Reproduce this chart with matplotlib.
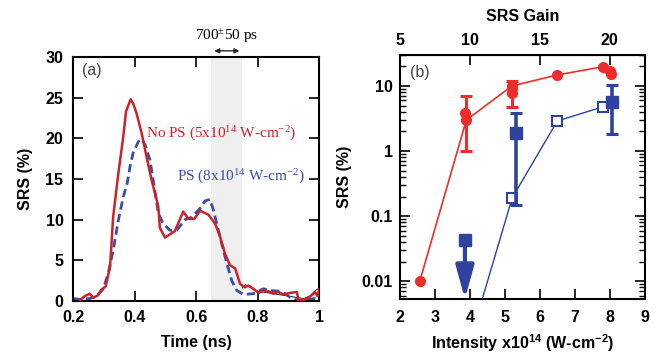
import matplotlib
matplotlib.use("Agg")
import matplotlib.pyplot as plt
from matplotlib.ticker import LogLocator, NullFormatter, FixedLocator

plt.rcParams['font.family'] = ['Liberation Sans', 'DejaVu Sans']
plt.rcParams['mathtext.default'] = 'regular'

# (a) time-resolved SRS
t_nops = [0.222, 0.238, 0.254, 0.265, 0.281, 0.292, 0.306, 0.32, 0.33, 0.347,
          0.363, 0.372, 0.387, 0.395, 0.406, 0.423, 0.439, 0.455, 0.477, 0.482,
          0.499, 0.531, 0.558, 0.575, 0.594, 0.613, 0.64, 0.662, 0.678, 0.694,
          0.71, 0.727, 0.743, 0.759, 0.77, 0.786, 0.803, 0.819, 0.835, 0.851,
          0.868, 0.884, 0.906, 0.928, 0.933, 0.955, 0.976, 0.987, 0.995, 1.0]
srs_nops = [0.1, 0.6, 0.9, 0.4, 0.7, 1.4, 1.8, 4.2, 10.3, 15.7,
            20.2, 23.3, 24.8, 24.3, 23.1, 20.6, 17.7, 14.9, 11.6, 9.0,
            7.8, 8.6, 11.0, 10.1, 10.1, 11.1, 10.6, 9.5, 7.9, 5.8,
            4.4, 4.0, 2.1, 1.7, 1.9, 1.5, 1.0, 1.3, 1.2, 0.9,
            1.1, 0.8, 1.0, 1.1, 0.1, 0.2, 0.7, 1.1, 0.6, 1.4]

t_ps = [0.2, 0.222, 0.254, 0.276, 0.298, 0.314, 0.33, 0.347, 0.363, 0.376,
        0.385, 0.395, 0.412, 0.423, 0.434, 0.45, 0.466, 0.477, 0.493, 0.515,
        0.537, 0.564, 0.586, 0.613, 0.629, 0.645, 0.656, 0.667, 0.683, 0.7,
        0.716, 0.732, 0.754, 0.786, 0.819, 0.84, 0.868, 0.889, 0.911, 0.933,
        0.96, 0.987, 1.0]
srs_ps = [0.3, 0.2, 0.3, 0.6, 1.5, 3.4, 6.2, 9.9, 12.8, 14.5,
          16.5, 18.2, 19.6, 19.9, 19.2, 17.3, 13.5, 10.8, 9.5, 8.7,
          8.7, 10.0, 10.3, 11.4, 12.3, 12.5, 11.2, 9.5, 7.1, 4.6,
          2.5, 1.3, 0.8, 0.9, 1.5, 1.3, 1.2, 0.9, 0.3, 0.1,
          0.2, 0.3, 0.1]

t_thin = [0.75, 0.76, 0.775, 0.79, 0.8, 0.95, 0.97, 0.985, 1.0]
srs_thin = [1.6, 2.0, 1.7, 1.4, 1.2, 0.3, 0.6, 1.2, 1.6]

window = (0.65, 0.75)

# (b) SRS vs intensity
i_nops = [2.57, 3.9, 5.2, 6.5, 7.8]
r_nops = [0.01, 3.0, 10.0, 14.8, 19.8]
i_nops_extra = [3.86, 5.21, 5.21, 8.0, 8.03]
r_nops_extra = [3.9, 9.2, 7.7, 17.0, 15.3]
i_nops_err = [3.9, 5.21]
r_nops_err = [3.0, 9.2]
lo_nops_err = [1.0, 4.8]
hi_nops_err = [7.0, 12.0]

i_ps_open = [4.0, 5.21, 6.5, 7.81]
r_ps_open = [0.0012, 0.19, 2.9, 4.8]

i_ps_fill = [5.33, 8.05]
r_ps_fill = [1.87, 5.7]
lo_ps_fill = [0.15, 1.8]
hi_ps_fill = [3.9, 10.4]

i_ps_limit = 3.86
r_ps_limit = 0.043

red_a = '#cc2229'
blue_a = '#3b4ea8'
red_b = '#ee2c2c'
blue_b = '#2f42a0'

fig = plt.figure(figsize=(6.62, 3.56), dpi=100)
ax1 = fig.add_axes([0.1105, 0.1545, 0.3715, 0.6855])
ax2 = fig.add_axes([0.604, 0.160, 0.370, 0.6855])

tick_kw = dict(direction='in', top=True, right=True, length=7, width=1.2,
               labelsize=11.5)

# ---- panel (a)
ax1.axvspan(window[0], window[1], color='#efefef', zorder=0, lw=0)
ax1.plot(t_ps, srs_ps, color=blue_a, lw=2.0, ls=(0, (3, 1.6)), zorder=2)
ax1.plot(t_nops, srs_nops, color=red_a, lw=1.8, zorder=3)
ax1.plot(t_thin, srs_thin, color='black', lw=0.6, zorder=1)
ax1.set_xlim(0.2, 1.0)
ax1.set_ylim(0, 30)
ax1.set_xticks([0.2, 0.4, 0.6, 0.8, 1.0])
ax1.set_xticklabels(['0.2', '0.4', '0.6', '0.8', '1'])
ax1.set_yticks([0, 5, 10, 15, 20, 25, 30])
ax1.tick_params(**tick_kw)
ax1.tick_params(axis='x', pad=6.5)
ax1.tick_params(axis='y', pad=7)
for lab in ax1.get_xticklabels() + ax1.get_yticklabels():
    lab.set_fontweight('bold')
ax1.set_xlabel('Time (ns)', fontsize=11.5, fontweight='bold', labelpad=7)
ax1.set_ylabel('SRS (%)', fontsize=11.5, fontweight='bold', labelpad=9)
for s in ax1.spines.values():
    s.set_linewidth(1.5)

ax1.text(0.23, 28.3, '(a)', fontsize=11.5, color='#444444', va='center')
ax1.text(0.437, 20.6, 'No PS (5x10$^{14}$ W-cm$^{-2}$)', color=red_a,
         family='Liberation Serif', fontsize=11, va='center')
ax1.text(0.537, 15.2, 'PS (8x10$^{14}$ W-cm$^{-2}$)', color=blue_a,
         family='Liberation Serif', fontsize=11, va='center')
ax1.annotate('', xy=(window[0], 30.75), xytext=(window[1], 30.75),
             arrowprops=dict(arrowstyle='<|-|>', color='#222222', lw=1.0,
                             mutation_scale=7), annotation_clip=False)
ax1.text(0.70, 31.5, '700$^{\\pm}$50 ps', ha='center', va='bottom',
         family='Liberation Serif', fontsize=11, clip_on=False)

# ---- panel (b)
ax2.set_yscale('log')
ax2.plot(i_nops, r_nops, color=red_b, lw=1.2, zorder=2)
ax2.plot(i_nops + i_nops_extra, r_nops + r_nops_extra, 'o', color=red_b,
         ms=7, zorder=3, ls='none')
ax2.errorbar(i_nops_err, r_nops_err,
             yerr=[[r - lo for r, lo in zip(r_nops_err, lo_nops_err)],
                   [hi - r for r, hi in zip(r_nops_err, hi_nops_err)]],
             fmt='none', ecolor=red_b, elinewidth=2.2, capsize=4, capthick=2.2,
             zorder=3)

ax2.plot(i_ps_open, r_ps_open, color=blue_b, lw=1.0, zorder=2)
ax2.plot(i_ps_open[1:], r_ps_open[1:], 's', mfc='white', mec=blue_b, mew=1.5,
         ms=6.5, ls='none', zorder=3)
ax2.errorbar(i_ps_fill, r_ps_fill,
             yerr=[[r - lo for r, lo in zip(r_ps_fill, lo_ps_fill)],
                   [hi - r for r, hi in zip(r_ps_fill, hi_ps_fill)]],
             fmt='s', color=blue_b, ms=8.5, elinewidth=2.6, capsize=4,
             capthick=2.2, zorder=4)
ax2.plot([i_ps_limit], [r_ps_limit], 's', color=blue_b, ms=8.5, zorder=4)
ax2.annotate('', xy=(i_ps_limit, 0.0053), xytext=(i_ps_limit, r_ps_limit),
             arrowprops=dict(arrowstyle='-|>,head_width=0.55,head_length=2.0',
                             color=blue_b, lw=3, shrinkA=0, shrinkB=0),
             zorder=4)

ax2.set_xlim(2, 9)
ax2.set_ylim(0.0053, 30)
ax2.set_xticks(range(2, 10))
ax2.yaxis.set_major_locator(FixedLocator([0.01, 0.1, 1, 10]))
ax2.set_yticklabels(['0.01', '0.1', '1', '10'])
ax2.yaxis.set_minor_locator(LogLocator(base=10, subs=range(2, 10), numticks=20))
ax2.yaxis.set_minor_formatter(NullFormatter())
ax2.tick_params(**tick_kw)
ax2.tick_params(which='minor', direction='in', right=True, length=4, width=1.0)
ax2.tick_params(axis='x', top=False, pad=8)
ax2.tick_params(axis='y', pad=5)
for lab in ax2.get_xticklabels() + ax2.get_yticklabels():
    lab.set_fontweight('bold')
ax2.set_xlabel('Intensity x10$^{14}$ (W-cm$^{-2}$)', fontsize=11.5,
               fontweight='bold', labelpad=5)
ax2.set_ylabel('SRS (%)', fontsize=11.5, fontweight='bold', labelpad=7)
for s in ax2.spines.values():
    s.set_linewidth(1.5)
ax2.text(2.3, 16, '(b)', fontsize=11.5, color='#444444', va='center')

top = ax2.secondary_xaxis('top', functions=(lambda x: 2.5 * x,
                                            lambda g: g / 2.5))
top.set_xticks([5, 10, 15, 20])
top.tick_params(direction='in', length=7, width=1.2, labelsize=11.5, pad=5)
for lab in top.get_xticklabels():
    lab.set_fontweight('bold')
top.set_xlabel('SRS Gain', fontsize=11.5, fontweight='bold', labelpad=9)

fig.savefig('out.png', dpi=100)
